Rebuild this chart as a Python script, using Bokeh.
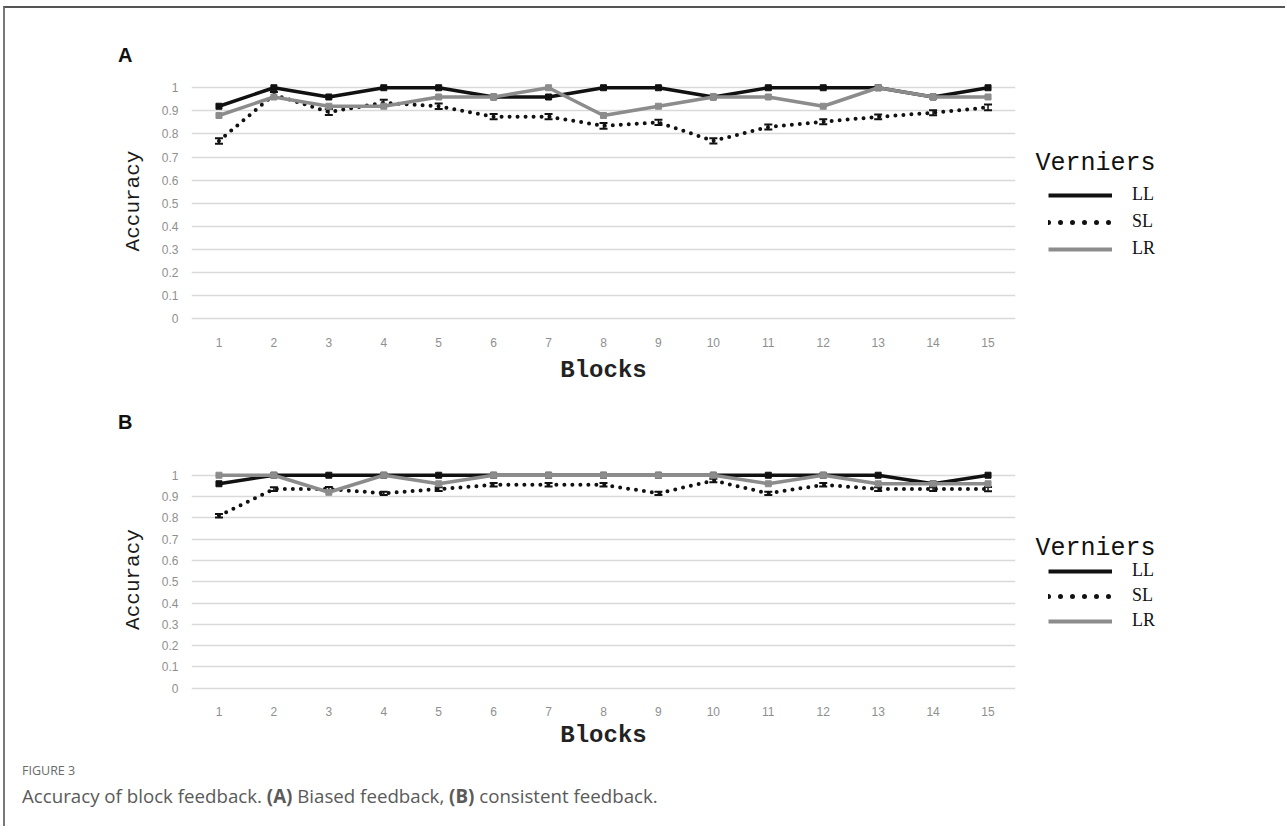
from bokeh.plotting import figure
from bokeh.models import (ColumnDataSource, Whisker, TeeHead, Legend, LegendItem,
                          Label, Range1d, FixedTicker, NumeralTickFormatter, Div)
from bokeh.layouts import column, row
from bokeh.embed import file_html
from bokeh.resources import INLINE

blocks = [1, 2, 3, 4, 5, 6, 7, 8, 9, 10, 11, 12, 13, 14, 15]
y_ticks = [0, 0.1, 0.2, 0.3, 0.4, 0.5, 0.6, 0.7, 0.8, 0.9, 1.0]

# Panel A: biased feedback
a_ll = [0.92, 1.00, 0.96, 1.00, 1.00, 0.96, 0.96, 1.00, 1.00, 0.96, 1.00, 1.00, 1.00, 0.96, 1.00]
a_sl = [0.77, 0.97, 0.895, 0.935, 0.92, 0.875, 0.875, 0.835, 0.85, 0.77, 0.83, 0.853, 0.874, 0.892, 0.915]
a_sl_err = [0.012, 0.012, 0.013, 0.013, 0.012, 0.011, 0.011, 0.012, 0.011, 0.011, 0.011, 0.011, 0.010, 0.011, 0.012]
a_lr = [0.88, 0.96, 0.92, 0.92, 0.96, 0.96, 1.00, 0.88, 0.92, 0.96, 0.96, 0.92, 1.00, 0.96, 0.96]

# Panel B: consistent feedback
b_ll = [0.96, 1.00, 1.00, 1.00, 1.00, 1.00, 1.00, 1.00, 1.00, 1.00, 1.00, 1.00, 1.00, 0.96, 1.00]
b_sl = [0.81, 0.935, 0.935, 0.915, 0.935, 0.955, 0.955, 0.955, 0.915, 0.975, 0.915, 0.955, 0.935, 0.935, 0.935]
b_sl_err = [0.008, 0.009, 0.010, 0.008, 0.009, 0.008, 0.008, 0.008, 0.008, 0.008, 0.008, 0.008, 0.009, 0.009, 0.010]
b_lr = [1.00, 1.00, 0.92, 1.00, 0.96, 1.00, 1.00, 1.00, 1.00, 1.00, 0.96, 1.00, 0.96, 0.96, 0.96]

series_names = ["LL", "SL", "LR"]
legend_title = "Verniers"

BLACK = "#111111"
GRAY = "#8c8c8c"

MAIN_W = 1018
LEG_W = 262


def style_ll(p, src, width=3.5):
    return p.line("x", "ll", source=src, line_color=BLACK, line_width=width)


def style_sl(p, src, width=4, dash="0 8"):
    return p.line("x", "sl", source=src, line_color=BLACK, line_width=width,
                  line_dash=dash, line_cap="round")


def style_lr(p, src, width=3.5):
    return p.line("x", "lr", source=src, line_color=GRAY, line_width=width)


def make_source(ll, sl, err, lr):
    return ColumnDataSource(dict(x=blocks, ll=ll, sl=sl, lr=lr,
                                 upper=[v + e for v, e in zip(sl, err)],
                                 lower=[v - e for v, e in zip(sl, err)]))


def make_panel(src, height, top, bottom, y_end, xlabel_standoff):
    p = figure(width=MAIN_W, height=height, output_backend="svg", toolbar_location=None,
               title=None,
               x_range=Range1d(0.5, 15.5), y_range=Range1d(-0.02, y_end),
               min_border_left=186, min_border_right=8,
               min_border_top=top, min_border_bottom=bottom)
    p.outline_line_color = None
    p.xgrid.grid_line_color = None
    p.ygrid.grid_line_color = "#d9d9d9"
    p.ygrid.grid_line_width = 1.4
    for ax in (p.xaxis[0], p.yaxis[0]):
        ax.axis_line_color = None
        ax.major_tick_line_color = None
        ax.minor_tick_line_color = None
        ax.major_label_text_font = "Liberation Sans"
        ax.major_label_text_font_size = "12px"
        ax.major_label_text_color = "#8f8f8f"
    p.xaxis.ticker = FixedTicker(ticks=blocks)
    p.yaxis.ticker = FixedTicker(ticks=y_ticks)
    p.yaxis.formatter = NumeralTickFormatter(format="0.[0]")
    p.xaxis.major_label_standoff = 8
    p.yaxis.major_label_standoff = 7

    p.xaxis.axis_label = "Blocks"
    p.xaxis.axis_label_text_font = "Liberation Mono"
    p.xaxis.axis_label_text_font_style = "bold"
    p.xaxis.axis_label_text_font_size = "24px"
    p.xaxis.axis_label_text_color = "#222222"
    p.xaxis.axis_label_standoff = xlabel_standoff

    p.yaxis.axis_label = "Accuracy"
    p.yaxis.axis_label_text_font = "Liberation Mono"
    p.yaxis.axis_label_text_font_style = "normal"
    p.yaxis.axis_label_text_font_size = "21px"
    p.yaxis.axis_label_text_color = "#1a1a1a"
    p.yaxis.axis_label_standoff = 14

    style_ll(p, src)
    p.scatter("x", "ll", source=src, marker="square", size=6, color=BLACK)
    style_sl(p, src)
    wh = Whisker(base="x", upper="upper", lower="lower", source=src,
                 line_color=BLACK, line_width=1.5,
                 upper_head=TeeHead(size=8, line_width=2, line_color=BLACK),
                 lower_head=TeeHead(size=8, line_width=2, line_color=BLACK))
    p.add_layout(wh)
    style_lr(p, src)
    p.scatter("x", "lr", source=src, marker="square", size=6, color=GRAY)
    return p


def make_legend(src, height, top, bottom, spacing, legend_y, title_y):
    q = figure(width=LEG_W, height=height, output_backend="svg", toolbar_location=None,
               title=None, x_range=Range1d(0, 1), y_range=Range1d(0, 1),
               x_axis_location=None, y_axis_location=None,
               min_border_left=0, min_border_right=0,
               min_border_top=top, min_border_bottom=bottom)
    q.outline_line_color = None
    q.xgrid.grid_line_color = None
    q.ygrid.grid_line_color = None
    r_ll = style_ll(q, src, width=4)
    r_sl = style_sl(q, src, width=5, dash="0 12")
    r_lr = style_lr(q, src, width=4)
    for r in (r_ll, r_sl, r_lr):
        r.visible = False
    legend = Legend(items=[LegendItem(label=series_names[0], renderers=[r_ll]),
                           LegendItem(label=series_names[1], renderers=[r_sl]),
                           LegendItem(label=series_names[2], renderers=[r_lr])],
                    location=(25, legend_y), orientation="vertical",
                    glyph_width=64, glyph_height=20, label_height=20,
                    spacing=spacing, padding=0, margin=0,
                    label_standoff=20, label_text_font="Liberation Serif",
                    label_text_font_size="18px", label_text_color="#111111",
                    background_fill_alpha=0, border_line_color=None)
    q.add_layout(legend)
    q.add_layout(Label(x=12, y=title_y, x_units="screen", y_units="screen",
                       text=legend_title, text_font="Liberation Mono",
                       text_font_size="25px", text_color="#111111",
                       text_baseline="middle", text_align="left"))
    return q


def letter_div(letter, height, pad_top):
    return Div(text=("<div style=\"font-family:'Liberation Sans';font-weight:bold;"
                     "font-size:20px;line-height:24px;color:#111;"
                     "padding-left:113px;padding-top:%dpx;\">%s</div>" % (pad_top, letter)),
               width=MAIN_W + LEG_W, height=height, margin=(0, 0, 0, 0))


src_a = make_source(a_ll, a_sl, a_sl_err, a_lr)
src_b = make_source(b_ll, b_sl, b_sl_err, b_lr)

div_a = letter_div("A", 62, 35)
pa = make_panel(src_a, height=330, top=8, bottom=77, y_end=1.04, xlabel_standoff=7)
la = make_legend(src_a, 330, 8, 77, 6, 64, 160)

div_b = letter_div("B", 55, 10)
pb = make_panel(src_b, height=305, top=11, bottom=68, y_end=1.041, xlabel_standoff=3)
lb = make_legend(src_b, 305, 11, 68, 4, 61, 144)

caption = Div(text=(
    "<div style=\"font-family:'Open Sans';color:#666;padding-left:17px;\">"
    "<div style=\"font-size:12.5px;line-height:20px;margin-top:1px;color:#6a6a6a;\">FIGURE 3</div>"
    "<div style=\"font-size:18.7px;line-height:24px;margin-top:3px;color:#5a5a5a;\">"
    "Accuracy of block feedback. <b>(A)</b> Biased feedback, <b>(B)</b> consistent feedback."
    "</div></div>"), width=MAIN_W + LEG_W, height=66, margin=(0, 0, 0, 0))

layout = column(div_a, row(pa, la, spacing=0), div_b, row(pb, lb, spacing=0), caption,
                spacing=0,
                styles={"border-top": "2px solid #555555", "border-left": "2px solid #777777",
                        "margin-left": "3px", "margin-top": "6px"})

open("out.html", "w").write(file_html(layout, INLINE))
